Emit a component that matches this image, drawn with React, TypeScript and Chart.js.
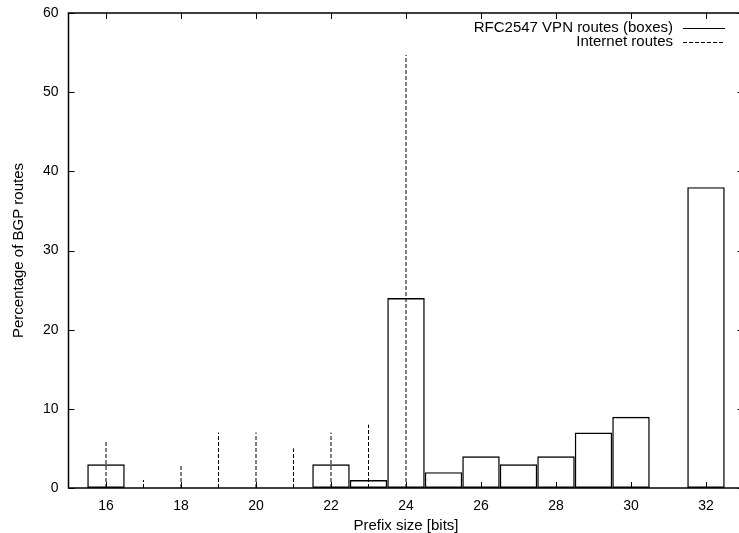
import React, { useEffect, useRef } from "react";
import { Chart, registerables } from "chart.js";

Chart.register(...registerables);

const prefixSizes = [16, 17, 18, 19, 20, 21, 22, 23, 24, 25, 26, 27, 28, 29, 30, 31, 32];
const vpnRoutes = [3, 0, 0, 0, 0, 0, 3, 1, 24, 2, 4, 3, 4, 7, 9, 0, 38];
const internetPrefixes = [16, 17, 18, 19, 20, 21, 22, 23, 24];
const internetRoutes = [6, 1, 3, 7, 7, 5, 7, 8, 54.7];
const xTickValues = [16, 18, 20, 22, 24, 26, 28, 30, 32];
const yTickValues = [0, 10, 20, 30, 40, 50, 60];

const FONT = "'Liberation Sans', Arial, Helvetica, sans-serif";

export default function App() {
  const ref = useRef<HTMLCanvasElement | null>(null);

  useEffect(() => {
    const canvas = ref.current;
    if (!canvas) return;

    const impulseData: any[] = [];
    internetPrefixes.forEach((x, i) => {
      impulseData.push({ x, y: 0 });
      impulseData.push({ x, y: internetRoutes[i] });
      impulseData.push({ x, y: null });
    });

    const frame = {
      id: "gnuplotFrame",
      afterDraw(chart: any) {
        const { ctx, chartArea } = chart;
        const xs = chart.scales.x;
        const ys = chart.scales.y;
        const tl = 6;
        ctx.save();
        ctx.strokeStyle = "#000";
        ctx.lineWidth = 1;
        ctx.beginPath();
        xs.ticks.forEach((t: any) => {
          const px = Math.round(xs.getPixelForValue(t.value)) + 0.5;
          ctx.moveTo(px, chartArea.bottom);
          ctx.lineTo(px, chartArea.bottom - tl);
          ctx.moveTo(px, chartArea.top);
          ctx.lineTo(px, chartArea.top + tl);
        });
        ys.ticks.forEach((t: any) => {
          const py = Math.round(ys.getPixelForValue(t.value)) + 0.5;
          ctx.moveTo(chartArea.left, py);
          ctx.lineTo(chartArea.left + tl, py);
          ctx.moveTo(chartArea.right, py);
          ctx.lineTo(chartArea.right - tl, py);
        });
        ctx.stroke();
        ctx.lineWidth = 1.5;
        ctx.strokeRect(chartArea.left, chartArea.top, chartArea.right - chartArea.left, chartArea.bottom - chartArea.top);

        // legend
        ctx.font = `15px ${FONT}`;
        ctx.fillStyle = "#000";
        ctx.textAlign = "right";
        ctx.textBaseline = "middle";
        const textRight = 673;
        const sx0 = 683;
        const sx1 = 725;
        const rows = [28, 42];
        chart.data.datasets.forEach((ds: any, i: number) => {
          const y = rows[i];
          ctx.fillText(ds.label, textRight, y);
          ctx.beginPath();
          ctx.lineWidth = 1;
          ctx.setLineDash(ds.borderDash || []);
          ctx.moveTo(sx0, y + 0.5);
          ctx.lineTo(sx1, y + 0.5);
          ctx.stroke();
          ctx.setLineDash([]);
        });
        ctx.restore();
      },
    };

    const chart = new Chart(canvas, {
      type: "bar",
      data: {
        datasets: [
          {
            type: "bar",
            label: "RFC2547 VPN routes (boxes)",
            data: prefixSizes.map((x, i) => ({ x, y: vpnRoutes[i] })),
            backgroundColor: "rgba(255,255,255,0)",
            borderColor: "#000",
            borderWidth: 1.4,
            borderSkipped: false,
            inflateAmount: 0,
            barPercentage: 1,
            categoryPercentage: 1,
            order: 1,
          } as any,
          {
            type: "line",
            label: "Internet routes",
            data: impulseData,
            borderColor: "#000",
            borderWidth: 1,
            borderDash: [4, 2],
            pointRadius: 0,
            spanGaps: false,
            fill: false,
            order: 0,
          } as any,
        ],
      },
      options: {
        responsive: false,
        animation: false,
        devicePixelRatio: 1,
        layout: { padding: { left: 0, top: 13, right: 16.5, bottom: 0 } },
        plugins: { legend: { display: false }, tooltip: { enabled: false } },
        scales: {
          x: {
            type: "linear",
            min: 15,
            max: 33,
            offset: false,
            grid: { display: false, drawTicks: false },
            border: { display: false },
            afterBuildTicks: (s: any) => {
              s.ticks = xTickValues.map((v) => ({ value: v }));
            },
            afterFit: (s: any) => {
              s.height = 45;
              s.paddingLeft = 0;
              s.paddingRight = 0;
            },
            ticks: {
              color: "#000",
              padding: 10,
              maxRotation: 0,
              autoSkip: false,
              font: { family: FONT, size: 14 },
            },
            title: {
              display: true,
              text: "Prefix size [bits]",
              color: "#000",
              padding: { top: 0, bottom: -1.5 },
              font: { family: FONT, size: 15 },
            },
          },
          y: {
            type: "linear",
            min: 0,
            max: 60,
            grid: { display: false, drawTicks: false },
            border: { display: false },
            afterBuildTicks: (s: any) => {
              s.ticks = yTickValues.map((v) => ({ value: v }));
            },
            afterFit: (s: any) => {
              s.width = 68.5;
              s.paddingTop = 0;
              s.paddingBottom = 0;
            },
            ticks: {
              color: "#000",
              padding: 10,
              autoSkip: false,
              font: { family: FONT, size: 14 },
            },
            title: {
              display: true,
              text: "Percentage of BGP routes",
              color: "#000",
              padding: { top: 10, bottom: 0 },
              font: { family: FONT, size: 15 },
            },
          },
        },
      } as any,
      plugins: [frame],
    });
    return () => chart.destroy();
  }, []);

  return (
    <div
      style={{
        position: "fixed",
        left: 0,
        top: 0,
        width: 739,
        height: 533,
        overflow: "hidden",
        background: "#fff",
      }}
    >
      <canvas ref={ref} width={760} height={533} style={{ width: 760, height: 533, display: "block" }} />
    </div>
  );
}
